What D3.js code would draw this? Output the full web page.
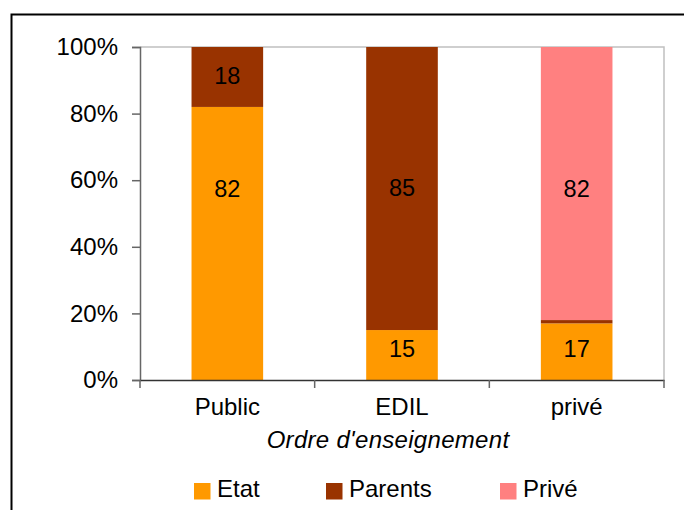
<!DOCTYPE html>
<html><head><meta charset="utf-8">
<script src="https://cdn.jsdelivr.net/npm/d3@7"></script>
<style>body{margin:0;background:#fff}svg{display:block;font-family:"Liberation Sans",Arial,sans-serif}</style>
</head><body>
<svg id="c" width="684" height="510"></svg>
<script>
const categories = ["Public", "EDIL", "privé"];
const seriesNames = ["Etat", "Parents", "Privé"];
const etat = [82, 15, 17];
const parents = [18, 85, 1];
const prive = [0, 0, 82];
const labels = [["82", "18", ""], ["15", "85", ""], ["17", "", "82"]];
const yTicks = [0, 20, 40, 60, 80, 100];
const axisTitle = "Ordre d'enseignement";

const colors = ["#FF9900", "#993300", "#FF8080"];
const svg = d3.select("#c");
// outer frame
svg.append("rect").attr("x", 11.5).attr("y", 14.5).attr("width", 700).attr("height", 520)
  .attr("fill", "none").attr("stroke", "#000").attr("stroke-width", 2);

const L = 140, R = 664, T = 47, B = 380;
const x = d3.scaleBand().domain(categories).range([L, R]).paddingInner(0).paddingOuter(0);
const y = d3.scaleLinear().domain([0, 100]).range([B, T]);

// plot area border (top & right)
svg.append("path").attr("d", `M${L},${T}H${R}V${B}`).attr("fill", "none").attr("stroke", "#c0c0c0").attr("stroke-width", 1.5);

const rows = categories.map((c, i) => ({cat: c, Etat: etat[i], Parents: parents[i], "Privé": prive[i]}));
const stack = d3.stack().keys(seriesNames)(rows);
const bw = x.bandwidth() * 0.41;
const g = svg.append("g");
stack.forEach((s, si) => {
  g.selectAll(null).data(s).enter().append("rect")
    .attr("x", d => x(d.data.cat) + (x.bandwidth() - bw) / 2)
    .attr("width", bw)
    .attr("y", d => y(d[1]))
    .attr("height", d => y(d[0]) - y(d[1]))
    .attr("fill", colors[si]);
});
// labels
const labelOverride = {"0|0": 57, "2|2": 57, "1|0": 9, "2|0": 9};
stack.forEach((s, si) => {
  s.forEach((d, ci) => {
    const t = labels[ci][si];
    if (!t) return;
    let v = (d[0] + d[1]) / 2;
    if (labelOverride[ci + "|" + si] !== undefined) v = labelOverride[ci + "|" + si];
    svg.append("text").attr("x", x(d.data.cat) + x.bandwidth() / 2).attr("y", y(v) - 1)
      .attr("text-anchor", "middle").attr("dominant-baseline", "central")
      .attr("font-size", 23.5).attr("fill", "#000").text(t);
  });
});

// y axis
const ya = svg.append("g").attr("transform", `translate(${L},0)`)
  .call(d3.axisLeft(y).tickValues(yTicks).tickSize(8).tickPadding(14).tickFormat(d => d + "%"));
ya.select(".domain").attr("stroke", "#666").attr("stroke-width", 1.5);
ya.selectAll(".tick line").attr("stroke", "#666").attr("stroke-width", 1.5);
ya.selectAll(".tick text").attr("font-size", 24).attr("fill", "#000").attr("font-family", "Liberation Sans, Arial, sans-serif");

// x axis
const xa = svg.append("g").attr("transform", `translate(0,${B})`)
  .call(d3.axisBottom(x).tickSize(0).tickPadding(18));
xa.select(".domain").attr("stroke", "#333").attr("stroke-width", 1.5);
xa.selectAll(".tick text").attr("font-size", 24).attr("fill", "#000").attr("font-family", "Liberation Sans, Arial, sans-serif");
const bounds = categories.map(c => x(c)).concat([R]);
svg.selectAll(null).data(bounds).enter().append("line")
  .attr("x1", d => d).attr("x2", d => d).attr("y1", B).attr("y2", B + 8)
  .attr("stroke", "#666").attr("stroke-width", 1.5);

svg.append("text").attr("x", 388).attr("y", 448).attr("text-anchor", "middle")
  .attr("font-size", 24).attr("font-style", "italic").attr("letter-spacing", 0.3).text(axisTitle);

// legend
const legX = [194, 326, 500];
seriesNames.forEach((n, i) => {
  svg.append("rect").attr("x", legX[i]).attr("y", 483).attr("width", 16.5).attr("height", 16.5).attr("fill", colors[i]);
  svg.append("text").attr("x", legX[i] + 23).attr("y", 497).attr("font-size", 24).text(n);
});
</script>
</body></html>
